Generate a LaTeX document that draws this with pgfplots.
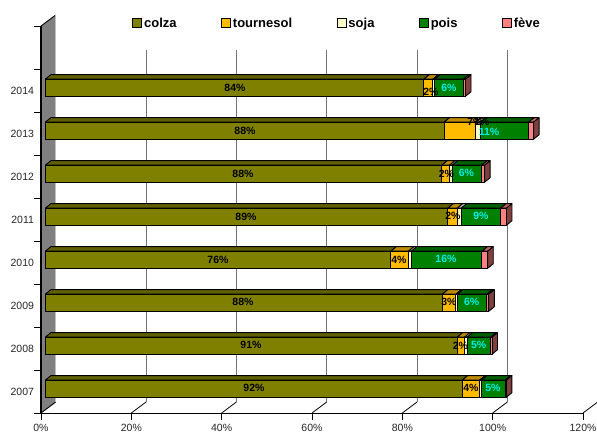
\documentclass[border=0pt]{standalone}
\usepackage{fontspec}
\setmainfont{Liberation Sans}
\usepackage{pgfplots}
\usepackage{pgfplotstable}
\pgfplotsset{compat=1.18}
\definecolor{colza}{HTML}{808000}
\definecolor{colzaT}{HTML}{606000}
\definecolor{tour}{HTML}{FFBB00}
\definecolor{tourT}{HTML}{BF8C00}
\definecolor{soja}{HTML}{FFFFCC}
\definecolor{sojaT}{HTML}{BFBF99}
\definecolor{pois}{HTML}{008000}
\definecolor{poisT}{HTML}{006000}
\definecolor{feve}{HTML}{FF8080}
\definecolor{feveT}{HTML}{BF6060}
\definecolor{feveS}{HTML}{804040}
\definecolor{cyantxt}{HTML}{00F0F0}
\pgfplotstableread{
y colza tournesol soja pois feve
0 92.3 3.85 0.44 5.2 0.3
1 91.2 1.6 0.6 5.2 0.3
2 87.9 3.0 0.35 6.5 0.44
3 76.5 3.9 0.66 15.6 1.3
4 89.1 2.1 0.9 8.7 1.3
5 87.8 1.7 0.6 6.5 0.66
6 88.3 7.0 1.0 10.7 1.1
7 83.8 2.0 0.44 6.3 0.5
}\datatable
% top-face segment: start, end, slot, colour
\newcommand{\seg}[4]{%
  \pgfmathsetmacro\xa{#1+0.952}\pgfmathsetmacro\xb{#2+0.952}%
  \pgfmathsetmacro\xc{#2+0.952+1.22}\pgfmathsetmacro\xd{#1+0.952+1.22}%
  \pgfmathsetmacro\ya{#3+0.263}\pgfmathsetmacro\yb{#3+0.368}%
  \edef\temp{\noexpand\addplot[fill=#4,draw=black,line width=0.9pt,line join=round,forget plot] coordinates {(\xa,\ya)(\xb,\ya)(\xc,\yb)(\xd,\yb)(\xa,\ya)};}\temp}
\newcommand{\sidef}[2]{%
  \pgfmathsetmacro\xa{#1+0.952}\pgfmathsetmacro\xc{#1+0.952+1.22}%
  \pgfmathsetmacro\ya{#2+0.263}\pgfmathsetmacro\yb{#2+0.368}%
  \pgfmathsetmacro\yc{#2-0.133}\pgfmathsetmacro\yd{#2-0.028}%
  \edef\temp{\noexpand\addplot[fill=feveS,draw=black,line width=0.9pt,line join=round,forget plot] coordinates {(\xa,\ya)(\xc,\yb)(\xc,\yd)(\xa,\yc)(\xa,\ya)};}\temp}
\newcommand{\lab}[4][black]{\node[text=#1,font=\fontsize{10.5}{12}\selectfont\bfseries,inner sep=0pt] at (axis cs:{(#3-41)/4.517},{(413-#4)/43-0.5}) {#2\%};}
\begin{document}
\begin{tikzpicture}
\path[use as bounding box] (-41pt,-21pt) rectangle (556pt,413pt);
\begin{axis}[
  scale only axis, width=542pt, height=387pt,
  xmin=0, xmax=120, ymin=-0.5, ymax=8.5,
  clip=false,
  axis x line*=bottom, axis y line*=left,
  axis line style={black,line width=0.9pt},
  xtick={0,20,...,120},
  xticklabel={\pgfmathprintnumber{\tick}\%},
  xtick align=outside,
  ytick={-0.5,0.5,...,8.5}, yticklabels={},
  ytick align=outside,
  major tick length=6.7pt,
  tick style={black,line width=0.9pt},
  extra y ticks={0,...,7},
  extra y tick labels={2007,2008,2009,2010,2011,2012,2013,2014},
  extra y tick style={tick style={draw=none},major tick length=0pt,yticklabel style={xshift=-3.5pt,yshift=-0.5pt}},
  /pgf/number format/assume math mode=true,
  tick label style={font=\fontsize{10.5}{12}\selectfont,text=black!85},
  xticklabel style={yshift=-1pt},
]
% wall
\addplot[fill=gray,draw=none,forget plot] coordinates {(0,-0.5)(3.254,-0.244)(3.254,8.756)(0,8.5)(0,-0.5)};
\addplot[black,line width=0.9pt,forget plot] coordinates {(0,8.5)(3.254,8.756)};
\addplot[black,line width=0.9pt,forget plot] coordinates {(0,-0.5)(3.254,-0.244)};
\addplot[black,line width=1.1pt,forget plot] coordinates {(0,-0.5)(0,8.5)};
\addplot[black!25,line width=0.8pt,forget plot] coordinates {(3.254,-0.244)(3.254,8.756)};
% floor and grid
\pgfplotsinvokeforeach{20,40,...,100}{
  \addplot[gray!90!black,line width=0.9pt,forget plot] coordinates {(#1+3.254,-0.244)(#1+3.254,7.94)};
}
\pgfplotsinvokeforeach{20,40,...,120}{
  \addplot[black,line width=0.8pt,forget plot] coordinates {(#1,-0.5)(#1+3.254,-0.244)};
}
% 3-D faces of the bars
\pgfplotsforeachungrouped \i in {0,...,7}{%
  \pgfplotstablegetelem{\i}{colza}\of\datatable \let\va\pgfplotsretval
  \pgfplotstablegetelem{\i}{tournesol}\of\datatable \let\vb\pgfplotsretval
  \pgfplotstablegetelem{\i}{soja}\of\datatable \let\vc\pgfplotsretval
  \pgfplotstablegetelem{\i}{pois}\of\datatable \let\vd\pgfplotsretval
  \pgfplotstablegetelem{\i}{feve}\of\datatable \let\ve\pgfplotsretval
  \pgfmathsetmacro\ca{\va}\pgfmathsetmacro\cb{\ca+\vb}\pgfmathsetmacro\cc{\cb+\vc}%
  \pgfmathsetmacro\cd{\cc+\vd}\pgfmathsetmacro\ce{\cd+\ve}%
  \seg{0}{\ca}{\i}{colzaT}\seg{\ca}{\cb}{\i}{tourT}\seg{\cb}{\cc}{\i}{sojaT}%
  \seg{\cc}{\cd}{\i}{poisT}\seg{\cd}{\ce}{\i}{feveT}\sidef{\ce}{\i}%
}
\end{axis}
\begin{axis}[
  scale only axis, width=542pt, height=387pt,
  xbar stacked, bar width=16.6pt,
  xmin=0, xmax=120, ymin=-0.5, ymax=8.5,
  clip=false, axis line style={draw=none}, xtick=\empty, ytick=\empty,
  legend columns=5,
  legend cell align=left,
  legend style={draw=none,fill=none,at={(0.168,1.006)},anchor=west,inner sep=0pt,
    font=\fontsize{13}{15}\selectfont\bfseries,
    /tikz/every even column/.append style={column sep=43.4pt},
    nodes={inner sep=1pt}},
  legend image code/.code={\draw[#1,xshift=0pt,yshift=0pt] (0pt,-4pt) rectangle (9pt,5pt);\path (10pt,0pt);},
]
% front faces
\pgfplotsset{every axis plot/.append style={xshift=4.3pt,/pgf/bar shift=2.8pt,draw=black,line width=0.9pt}}
\addplot[fill=colza] table[x=colza,y=y]{\datatable};
\addplot[fill=tour] table[x=tournesol,y=y]{\datatable};
\addplot[fill=soja] table[x=soja,y=y]{\datatable};
\addplot[fill=pois] table[x=pois,y=y]{\datatable};
\addplot[fill=feve] table[x=feve,y=y]{\datatable};
\legend{colza,tournesol,soja,pois,fève}
\end{axis}
\begin{axis}[
  scale only axis, width=542pt, height=387pt,
  xmin=0, xmax=120, ymin=-0.5, ymax=8.5,
  clip=false, axis line style={draw=none}, xtick=\empty, ytick=\empty,
]
% value labels
\lab{84}{235}{88}\lab{2}{431}{92}\lab[cyantxt]{6}{449}{88}
\lab{88}{245}{131}\lab{7}{475}{122}\lab{1}{482}{122}\lab[cyantxt]{11}{489}{132}
\lab{88}{243}{174}\lab{2}{446.5}{174}\lab[cyantxt]{6}{466.5}{173}
\lab{89}{246}{217}\lab{2}{453}{216}\lab[cyantxt]{9}{481}{216}
\lab{76}{218}{260}\lab{4}{399}{260}\lab[cyantxt]{16}{446}{259}
\lab{88}{243}{302}\lab{3}{449}{302}\lab[cyantxt]{6}{471.7}{302}
\lab{91}{251}{345}\lab{2}{460.5}{345.5}\lab[cyantxt]{5}{478.7}{345}
\lab{92}{254}{388}\lab{4}{471}{388}\lab[cyantxt]{5}{493}{388}
\end{axis}
\end{tikzpicture}
\end{document}
